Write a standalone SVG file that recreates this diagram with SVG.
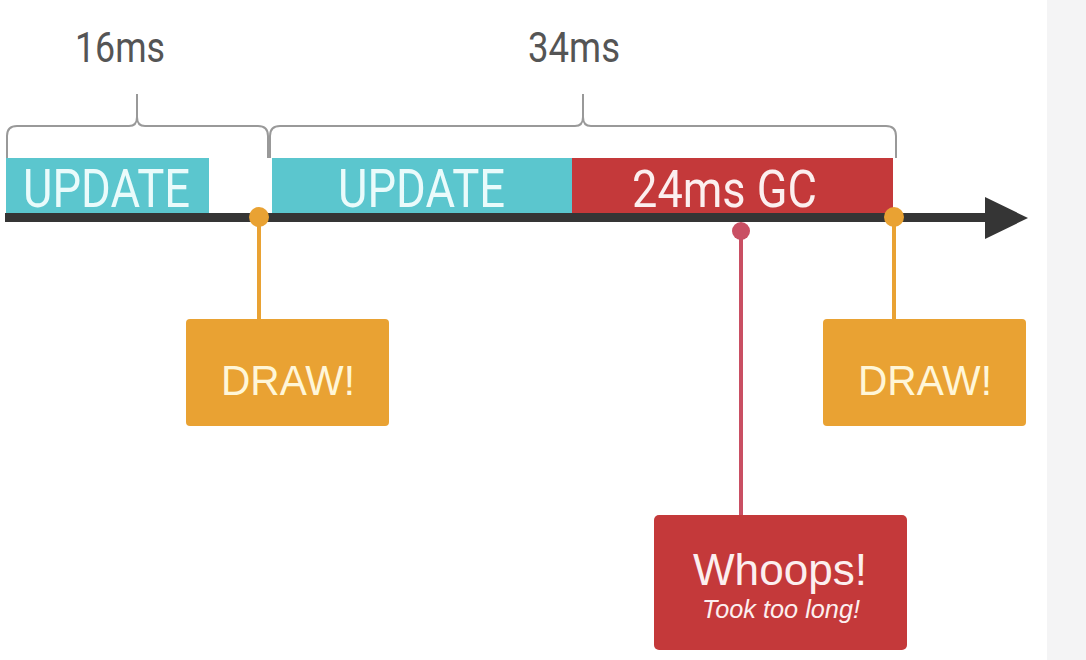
<svg xmlns="http://www.w3.org/2000/svg" width="1086" height="660" viewBox="0 0 1086 660">
<style>
.cond{font-family:Roboto,"Liberation Sans",sans-serif;}
.lbl{fill:#555;font-size:42px;}
.bar{font-size:54px;fill:#EAFBFB;}
.gc{font-size:52px;fill:#FCEFEF;}
.brace{fill:none;stroke:#999;stroke-width:2;stroke-linejoin:round;}
.draw{fill:#E9A233;}
.drawtxt{font-family:"Liberation Sans",Arial,sans-serif;font-size:42px;fill:#FFF6D8;text-anchor:start;}
.oline{stroke:#E9A233;stroke-width:4;}
.rline{stroke:#C94F63;stroke-width:4;}
</style>
<rect x="0" y="0" width="1086" height="660" fill="#ffffff"/>
<rect x="1047" y="0" width="39" height="660" fill="#f4f4f5"/>

<g id="labels">
<text class="cond lbl" x="75" y="62" textLength="90" lengthAdjust="spacingAndGlyphs">16ms</text>
<text class="cond lbl" x="528" y="62" textLength="92" lengthAdjust="spacingAndGlyphs">34ms</text>
</g>

<g id="braces">
<path class="brace" d="M7,158 V136 Q7,126 17,126 H129 Q137,126 137,117 V94 M137,117 Q137,126 145,126 H258 Q268,126 268,136 V158"/>
<path class="brace" d="M270,158 V136 Q270,126 280,126 H575 Q583,126 583,117 V94 M583,117 Q583,126 591,126 H886 Q896,126 896,136 V158"/>
</g>

<g id="update1">
<rect x="6" y="158" width="203" height="56" fill="#5BC6CE"/>
<text class="cond bar" x="23" y="207" textLength="167" lengthAdjust="spacingAndGlyphs">UPDATE</text>
</g>
<g id="update2">
<rect x="272" y="158" width="300" height="56" fill="#5BC6CE"/>
<text class="cond bar" x="338" y="207" textLength="167" lengthAdjust="spacingAndGlyphs">UPDATE</text>
</g>
<g id="gc">
<rect x="572" y="158" width="321" height="56" fill="#C4393A"/>
<text class="cond gc" x="632" y="207" textLength="185" lengthAdjust="spacingAndGlyphs">24ms GC</text>
</g>

<g id="connectors">
<line class="oline" x1="259" y1="217" x2="259" y2="320"/>
<line class="oline" x1="894" y1="217" x2="894" y2="320"/>
<line class="rline" x1="741" y1="231" x2="741" y2="516"/>
</g>

<g id="timeline">
<rect x="5" y="213" width="982" height="9" fill="#353535"/>
<polygon points="985,197 1028,218 985,239" fill="#353535"/>
<circle cx="259" cy="217" r="10" fill="#E9A233"/>
<circle cx="894" cy="217" r="10" fill="#E9A233"/>
<circle cx="741" cy="231" r="9" fill="#C94F63"/>
</g>

<g id="draw1">
<rect class="draw" x="186" y="319" width="203" height="107" rx="4"/>
<text class="drawtxt" x="221" y="395" textLength="134" lengthAdjust="spacingAndGlyphs">DRAW!</text>
</g>
<g id="draw2">
<rect class="draw" x="823" y="319" width="203" height="107" rx="4"/>
<text class="drawtxt" x="858" y="395" textLength="134" lengthAdjust="spacingAndGlyphs">DRAW!</text>
</g>

<g id="whoops">
<rect x="654" y="515" width="253" height="135" rx="5" fill="#C4393A"/>
<text x="693" y="585" font-family="Liberation Sans, Arial, sans-serif" font-size="44" fill="#FCEFEF" textLength="174" lengthAdjust="spacingAndGlyphs">Whoops!</text>
<text x="702" y="618" font-family="Liberation Sans, Arial, sans-serif" font-size="25" font-style="italic" fill="#FCEFEF" textLength="158" lengthAdjust="spacingAndGlyphs">Took too long!</text>
</g>
</svg>
